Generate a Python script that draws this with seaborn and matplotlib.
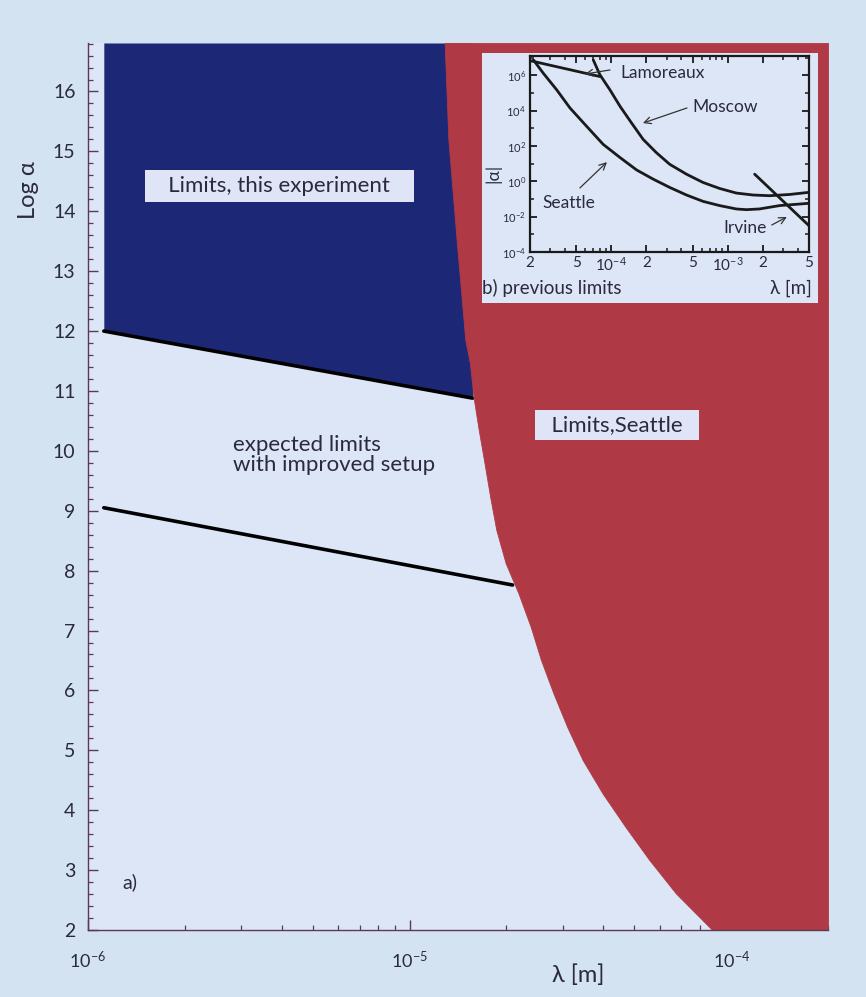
import matplotlib
matplotlib.use("Agg")
import matplotlib.pyplot as plt
import seaborn as sns
import pandas as pd
from matplotlib.patches import Rectangle
from matplotlib.ticker import FixedLocator, FixedFormatter, MultipleLocator, NullFormatter

# ---------------- main panel: log(alpha) vs lambda ----------------
lam_min, lam_max = 1e-6, 2e-4
log_alpha_min, log_alpha_max = 2.0, 16.81

# Seattle exclusion boundary (everything to the right is excluded)
seattle_lambda = [1.285e-5, 1.32e-5, 1.40e-5, 1.49e-5, 1.54e-5, 1.58e-5,
                  1.64e-5, 1.71e-5, 1.78e-5, 1.86e-5, 1.99e-5, 2.18e-5,
                  2.38e-5, 2.56e-5, 2.80e-5, 3.09e-5, 3.45e-5, 3.98e-5,
                  4.69e-5, 5.56e-5, 6.73e-5, 8.73e-5]
seattle_log_alpha = [16.81, 15.19, 13.52, 11.85, 11.46, 10.90,
                     10.35, 9.79, 9.23, 8.68, 8.12, 7.62,
                     7.06, 6.51, 5.95, 5.39, 4.84, 4.28,
                     3.72, 3.17, 2.61, 2.0]

# limit from this experiment
this_exp_lambda = [1.12e-6, 1.57e-5]
this_exp_log_alpha = [12.0, 10.88]

# expected limit with the improved setup
improved_lambda = [1.12e-6, 2.09e-5]
improved_log_alpha = [9.05, 7.76]

main_xticks = [1e-6, 1e-5, 1e-4]
main_xticklabels = ["10$^{-6}$", "10$^{-5}$", "10$^{-4}$"]

# ---------------- inset: previous limits |alpha| vs lambda ----------------
inset_seattle_lambda = [2.14e-5, 2.60e-5, 3.39e-5, 4.41e-5, 6.12e-5, 8.51e-5,
                        1.19e-4, 1.65e-4, 2.29e-4, 3.18e-4, 4.43e-4, 6.15e-4,
                        8.55e-4, 1.19e-3, 1.45e-3, 1.88e-3, 2.80e-3, 5.0e-3]
inset_seattle_alpha = [7.6e6, 1.35e6, 1.55e5, 1.45e4, 1.35e3, 126,
                       22.4, 4.47, 1.35, 0.457, 0.170, 0.0741,
                       0.0427, 0.0275, 0.0251, 0.0275, 0.0427, 0.0575]

moscow_lambda = [7.0e-5, 7.98e-5, 9.73e-5, 1.19e-4, 1.49e-4, 1.88e-4, 2.44e-4,
                 3.18e-4, 4.43e-4, 6.15e-4, 8.55e-4, 1.19e-3, 1.65e-3,
                 2.30e-3, 3.41e-3, 5.0e-3]
moscow_alpha = [7.6e6, 1.10e6, 1.55e5, 1.78e4, 2.09e3, 240, 42.7,
                9.33, 2.57, 0.871, 0.398, 0.219, 0.170,
                0.155, 0.182, 0.240]

lamoreaux_lambda = [2.0e-5, 7.98e-5]
lamoreaux_alpha = [6.9e6, 8.7e5]

irvine_lambda = [1.71e-3, 5.0e-3]
irvine_alpha = [2.57, 3.16e-3]

inset_xticks = [2e-5, 5e-5, 1e-4, 2e-4, 5e-4, 1e-3, 2e-3, 5e-3]
inset_xticklabels = ["2", "5", "10$^{-4}$", "2", "5", "10$^{-3}$", "2", "5"]
inset_yticks = [1e-4, 1e-2, 1e0, 1e2, 1e4, 1e6]
inset_yticklabels = ["10$^{-4}$", "10$^{-2}$", "10$^{0}$", "10$^{2}$", "10$^{4}$", "10$^{6}$"]

# ---------------- styling ----------------
sns.set_theme(style="ticks")
plt.rcParams["font.family"] = ["Lato", "DejaVu Sans"]
plt.rcParams["mathtext.fontset"] = "custom"
plt.rcParams["mathtext.rm"] = "Lato"
plt.rcParams["mathtext.default"] = "regular"

BG_OUT = "#d4e3f1"
BG_IN = "#dde6f6"
NAVY = "#1c2775"
RED = "#af3a46"
TEXT = "#2a2a3c"
SPINE = "#5a3a55"
BOX = "#dfe4f6"

fig = plt.figure(figsize=(8.66, 9.97), dpi=100, facecolor=BG_OUT)
ax = fig.add_axes([0.1016, 0.0672, 0.8546, 0.8897])
ax.set_facecolor(BG_IN)
ax.set_xscale("log")
ax.set_xlim(lam_min, lam_max)
ax.set_ylim(log_alpha_min, log_alpha_max)

# region excluded by this experiment
ax.fill_between(this_exp_lambda, this_exp_log_alpha, log_alpha_max,
                color=NAVY, lw=0, zorder=1)
sns.lineplot(x=this_exp_lambda, y=this_exp_log_alpha, ax=ax, color="black",
             lw=2.6, zorder=2, legend=False)
sns.lineplot(x=improved_lambda, y=improved_log_alpha, ax=ax, color="black",
             lw=2.6, zorder=2, legend=False)
# region excluded by the Seattle experiment
ax.fill_betweenx(seattle_log_alpha, seattle_lambda, lam_max,
                 color=RED, lw=0.6, ec=RED, zorder=3)

ax.text(3.94e-6, 14.42, "   Limits, this experiment   ", fontsize=16, color=TEXT,
        ha="center", va="center", zorder=5,
        bbox=dict(boxstyle="square,pad=0.28", fc=BOX, ec="none"))
ax.text(2.82e-6, 9.93, "expected limits\nwith improved setup", fontsize=16,
        color=TEXT, ha="left", va="center", linespacing=1.0, zorder=5)
ax.text(4.4e-5, 10.43, "  Limits,Seattle  ", fontsize=16, color=TEXT,
        ha="center", va="center", zorder=5,
        bbox=dict(boxstyle="square,pad=0.22", fc=BOX, ec="none"))
ax.text(1.28e-6, 2.8, "a)", fontsize=14, color=TEXT, ha="left", va="center",
        zorder=5)

# axes, ticks, labels
for side in ["top", "right"]:
    ax.spines[side].set_visible(False)
for side in ["left", "bottom"]:
    ax.spines[side].set_color(SPINE)
    ax.spines[side].set_linewidth(1.0)
    ax.spines[side].set_zorder(6)

ax.xaxis.set_major_locator(FixedLocator(main_xticks))
ax.xaxis.set_major_formatter(FixedFormatter(main_xticklabels))
ax.xaxis.set_minor_locator(FixedLocator(
    [m * d for d in (1e-6, 1e-5, 1e-4) for m in range(2, 10) if m * d <= lam_max]))
ax.xaxis.set_minor_formatter(NullFormatter())
ax.yaxis.set_major_locator(MultipleLocator(1))
ax.yaxis.set_minor_locator(MultipleLocator(0.2))
ax.tick_params(axis="both", which="major", direction="in", length=7, width=1,
               color=SPINE, labelcolor=TEXT, labelsize=14)
ax.tick_params(axis="both", which="minor", direction="in", length=3.5, width=0.9,
               color=SPINE)
ax.tick_params(axis="x", which="major", pad=14, labelsize=13)
ax.tick_params(axis="y", which="major", pad=9)

ax.set_ylabel("Log α", fontsize=17, color=TEXT)
ax.yaxis.set_label_coords(-0.066, 0.834)
ax.set_xlabel("λ [m]", fontsize=17, color=TEXT)
ax.xaxis.set_label_coords(0.662, -0.039)

# white panel behind the inset
ax.add_patch(Rectangle((0.5566, 0.696), 0.388, 0.2508, transform=fig.transFigure,
                       fc=BG_IN, ec="none", zorder=7, clip_on=False))

# ---------------- inset ----------------
ins = fig.add_axes([0.612, 0.7472, 0.322, 0.1966])
ins.set_facecolor(BG_IN)
ins.set_xscale("log")
ins.set_yscale("log")
ins.set_xlim(2e-5, 5e-3)
ins.set_ylim(1e-4, 10 ** 7.1)

curves = pd.concat([
    pd.DataFrame({"lam": inset_seattle_lambda, "alpha": inset_seattle_alpha, "exp": "Seattle"}),
    pd.DataFrame({"lam": moscow_lambda, "alpha": moscow_alpha, "exp": "Moscow"}),
    pd.DataFrame({"lam": lamoreaux_lambda, "alpha": lamoreaux_alpha, "exp": "Lamoreaux"}),
    pd.DataFrame({"lam": irvine_lambda, "alpha": irvine_alpha, "exp": "Irvine"}),
])
sns.lineplot(data=curves, x="lam", y="alpha", units="exp", estimator=None,
             color="#1a1a1a", lw=2.0, ax=ins, legend=False)
ins.set_xlabel("")
ins.set_ylabel("")

for s in ins.spines.values():
    s.set_color("#1a1a1a")
    s.set_linewidth(1.6)
ins.xaxis.set_major_locator(FixedLocator(inset_xticks))
ins.xaxis.set_major_formatter(FixedFormatter(inset_xticklabels))
ins.xaxis.set_minor_locator(FixedLocator(
    [m * d for d in (1e-5, 1e-4, 1e-3) for m in (3, 4, 6, 7, 8, 9)
     if 2e-5 < m * d < 5e-3]))
ins.xaxis.set_minor_formatter(NullFormatter())
ins.yaxis.set_major_locator(FixedLocator(inset_yticks))
ins.yaxis.set_major_formatter(FixedFormatter(inset_yticklabels))
ins.yaxis.set_minor_locator(FixedLocator([1e-3, 1e-1, 1e1, 1e3, 1e5, 1e7]))
ins.yaxis.set_minor_formatter(NullFormatter())
ins.tick_params(axis="both", which="major", direction="in", length=5, width=1.3,
                top=True, right=True, color="#1a1a1a", labelcolor=TEXT, pad=3)
ins.tick_params(axis="both", which="minor", direction="in", length=3, width=1.1,
                top=True, right=True, color="#1a1a1a")
ins.tick_params(axis="x", which="major", labelsize=11)
ins.tick_params(axis="y", which="major", labelsize=8)

tkw = dict(fontsize=12.5, color=TEXT, transform=ins.transAxes, va="center")
ins.text(0.323, 0.913, "Lamoreaux", ha="left", **tkw)
ins.text(0.584, 0.740, "Moscow", ha="left", **tkw)
ins.text(0.043, 0.250, "Seattle", ha="left", **tkw)
ins.text(0.692, 0.122, "Irvine", ha="left", **tkw)
ins.text(-0.172, -0.184, "b) previous limits", ha="left",
         **{**tkw, "fontsize": 13.5})
ins.text(1.011, -0.184, "λ [m]", ha="right", **{**tkw, "fontsize": 13.5})
ins.text(-0.133, 0.403, "|α|", ha="center", rotation=90, **tkw)

akw = dict(arrowstyle="->", color="#333333", lw=0.9, shrinkA=0, shrinkB=0)
ins.annotate("", xy=(0.197, 0.908), xytext=(0.287, 0.929),
             xycoords="axes fraction", arrowprops=akw)
ins.annotate("", xy=(0.405, 0.658), xytext=(0.563, 0.735),
             xycoords="axes fraction", arrowprops=akw)
ins.annotate("", xy=(0.276, 0.459), xytext=(0.179, 0.327),
             xycoords="axes fraction", arrowprops=akw)
ins.annotate("", xy=(0.921, 0.179), xytext=(0.867, 0.138),
             xycoords="axes fraction", arrowprops=akw)

fig.savefig("out.png", dpi=100, facecolor=BG_OUT)
